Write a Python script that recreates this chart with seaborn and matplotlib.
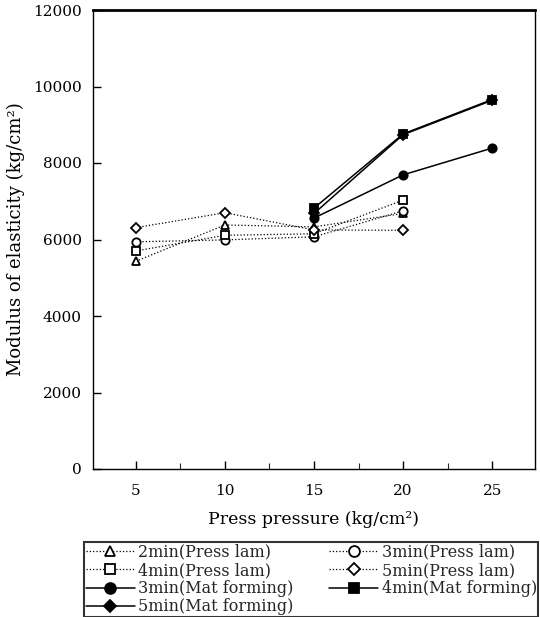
import matplotlib
matplotlib.use("Agg")
import matplotlib.pyplot as plt
import seaborn as sns
import pandas as pd
from matplotlib.ticker import MultipleLocator

sns.set_theme(style="white")
plt.rcParams['font.family'] = ['DejaVu Serif', 'Liberation Serif']

# Data
pressure_pl = [5, 10, 15, 20]
pl_2min = [5430, 6380, 6330, 6680]
pl_3min = [5940, 5990, 6070, 6750]
pl_4min = [5700, 6110, 6150, 7030]
pl_5min = [6310, 6700, 6250, 6240]

pressure_mf = [15, 20, 25]
mf_3min = [6560, 7690, 8390]
mf_4min = [6820, 8760, 9660]
mf_5min = [6680, 8740, 9640]

labels = ["2min(Press lam)", "3min(Press lam)", "4min(Press lam)", "5min(Press lam)",
          "3min(Mat forming)", "4min(Mat forming)", "5min(Mat forming)"]

fig = plt.figure(figsize=(5.4, 6.17), dpi=100)
ax = fig.add_axes([93/540, 1-469/617, 442/540, 459/617])

series = [
    (pressure_pl, pl_2min, "^", "white", ":", labels[0]),
    (pressure_pl, pl_3min, "o", "white", ":", labels[1]),
    (pressure_pl, pl_4min, "s", "white", ":", labels[2]),
    (pressure_pl, pl_5min, "D", "white", ":", labels[3]),
    (pressure_mf, mf_3min, "o", "black", "-", labels[4]),
    (pressure_mf, mf_4min, "s", "black", "-", labels[5]),
    (pressure_mf, mf_5min, "D", "black", "-", labels[6]),
]

handles = {}
for xs, ys, mk, fc, ls, lab in series:
    df = pd.DataFrame({"x": xs, "y": ys})
    ms = 6 if mk != "D" else 5
    sns.lineplot(data=df, x="x", y="y", ax=ax, color="black", linestyle=ls,
                 linewidth=1.1 if ls == "-" else 0.9, marker=mk, markersize=ms,
                 markerfacecolor=fc, markeredgecolor="black", markeredgewidth=1.3,
                 label=lab, legend=False)
    handles[lab] = ax.lines[-1]

ax.set_xlim(2.6, 27.4)
ax.set_ylim(0, 12000)
ax.xaxis.set_major_locator(MultipleLocator(5))
ax.xaxis.set_minor_locator(MultipleLocator(2.5))
ax.yaxis.set_major_locator(MultipleLocator(2000))
ax.tick_params(axis="both", which="major", direction="in", length=6, width=1,
               labelsize=11, color="black", labelcolor="black", bottom=True, left=True)
ax.tick_params(axis="x", which="major", pad=11)
ax.tick_params(axis="y", which="major", pad=8)
ax.tick_params(axis="x", which="minor", direction="in", length=4, width=0.8, bottom=True)
for s in ax.spines.values():
    s.set_color("black")
    s.set_linewidth(1.0)
ax.spines["top"].set_linewidth(2.0)

ax.set_xlabel("Press pressure (kg/cm²)", fontsize=12.5, color="black", labelpad=9)
ax.set_ylabel("Modulus of elasticity (kg/cm²)", fontsize=13, color="black", labelpad=6)

order = [labels[0], labels[2], labels[4], labels[6], labels[1], labels[3], labels[5]]
leg = fig.legend([handles[l] for l in order], order, ncol=2, loc="upper left",
                 bbox_to_anchor=(84/540, 1-542/617), fontsize=11.5, frameon=True,
                 fancybox=False, edgecolor="black", borderpad=0.1, labelspacing=0.08,
                 handlelength=3.1, handletextpad=0.2, columnspacing=2.2,
                 borderaxespad=0, markerscale=1.3)
leg.get_frame().set_linewidth(1.5)

fig.savefig("out.png", dpi=100, facecolor="white")
